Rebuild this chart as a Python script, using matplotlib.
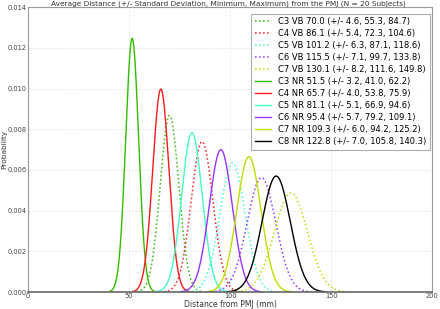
import matplotlib
matplotlib.use("Agg")
import matplotlib.pyplot as plt
import numpy as np

# segment, mean, std, min, max (mm)
vb_names = ["C3 VB", "C4 VB", "C5 VB", "C6 VB", "C7 VB"]
vb_mean = [70.0, 86.1, 101.2, 115.5, 130.1]
vb_std = [4.6, 5.4, 6.3, 7.1, 8.2]
vb_min = [55.3, 72.3, 87.1, 99.7, 111.6]
vb_max = [84.7, 104.6, 118.6, 133.8, 149.8]

nr_names = ["C3 NR", "C4 NR", "C5 NR", "C6 NR", "C7 NR", "C8 NR"]
nr_mean = [51.5, 65.7, 81.1, 95.4, 109.3, 122.8]
nr_std = [3.2, 4.0, 5.1, 5.7, 6.0, 7.0]
nr_min = [41.0, 53.8, 66.9, 79.2, 94.2, 105.8]
nr_max = [62.2, 75.9, 94.6, 109.1, 125.2, 140.3]

colors = ["#33bb00", "#ff1a1a", "#40ffbf", "#9933ff", "#bfdd00", "#000000"]
BIN = 0.1  # mm, probability per 0.1 mm step


def pdf(mu, sd):
    x = np.linspace(mu - 3.5 * sd, mu + 3.5 * sd, 300)
    return x, BIN * np.exp(-0.5 * ((x - mu) / sd) ** 2) / (sd * np.sqrt(2 * np.pi))


fig = plt.figure(figsize=(4.4, 3.09), dpi=100)
ax = fig.add_axes([0.064, 0.055, 0.918, 0.922])

for i, n in enumerate(vb_names):
    x, y = pdf(vb_mean[i], vb_std[i])
    lab = "%s %.1f (+/- %.1f, %.1f, %.1f)" % (n, vb_mean[i], vb_std[i], vb_min[i], vb_max[i])
    ax.plot(x, y, ls=":", color=colors[i], lw=1.1, label=lab)
for i, n in enumerate(nr_names):
    x, y = pdf(nr_mean[i], nr_std[i])
    lab = "%s %.1f (+/- %.1f, %.1f, %.1f)" % (n, nr_mean[i], nr_std[i], nr_min[i], nr_max[i])
    ax.plot(x, y, ls="-", color=colors[i], lw=1.0, label=lab)

ax.set_xlim(0, 200)
ax.set_ylim(0, 0.014)
ax.set_xticks([0, 50, 100, 150, 200])
ax.set_yticks(np.arange(0, 0.0141, 0.002))
ax.yaxis.set_major_formatter(matplotlib.ticker.FormatStrFormatter("%.3f"))
ax.tick_params(labelsize=4.8, length=0, pad=1, colors="#444444")
ax.grid(True, color="#dde8e8", ls="--", lw=0.5)
for s in ax.spines.values():
    s.set_color("#999999")
ax.spines["bottom"].set_color("#666666")
ax.spines["bottom"].set_linewidth(1.2)

ax.set_xlabel("Distance from PMJ (mm)", fontsize=5.5, labelpad=0.5, color="#333333")
ax.set_ylabel("Probability", fontsize=5.3, color="#333333")
ax.yaxis.set_label_coords(-0.052, 0.5)
fig.text(0.52, 0.988, "Average Distance (+/- Standard Deviation, Minimum, Maximum) from the PMJ (N = 20 Subjects)",
         ha="center", va="center", fontsize=5.3, color="#333333")

leg = ax.legend(loc="upper right", bbox_to_anchor=(1.0, 0.985), fontsize=6.0, frameon=True,
                fancybox=False, borderaxespad=0.3, handlelength=2.0, labelspacing=0.36,
                borderpad=0.4)
leg.get_frame().set_edgecolor("#999999")
leg.get_frame().set_linewidth(0.8)

fig.savefig("out.png", dpi=100)
